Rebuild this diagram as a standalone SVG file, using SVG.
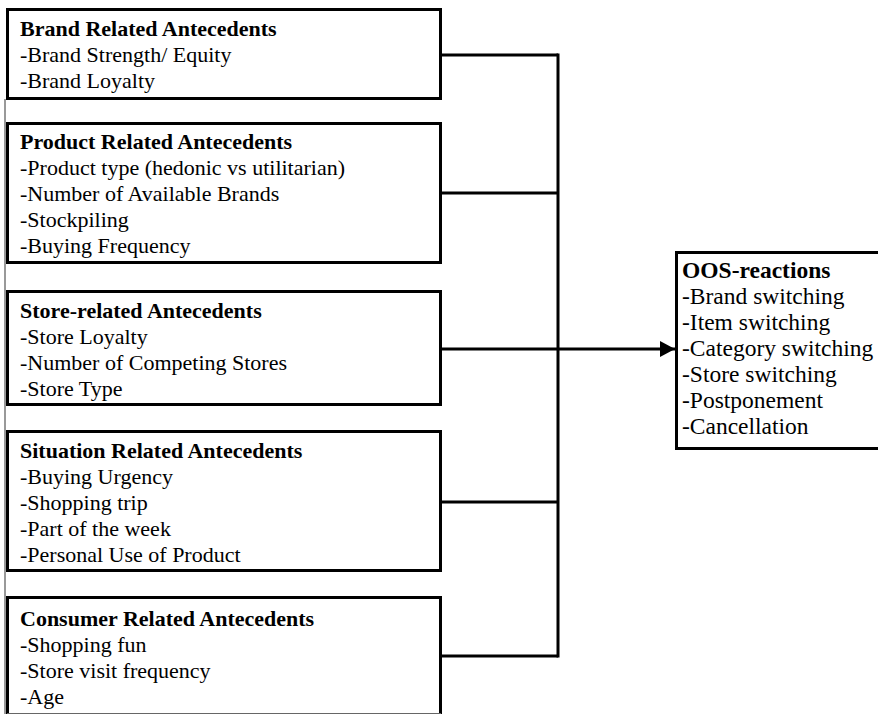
<svg xmlns="http://www.w3.org/2000/svg" width="878" height="714" viewBox="0 0 878 714">
<style>
.box{fill:#fff;stroke:#000;stroke-width:3}
.t{font-family:"Liberation Serif","Times New Roman",serif;font-size:22px;fill:#000}
.o{font-size:23.5px}
.b{font-weight:bold}
.c{stroke:#000;stroke-width:3;fill:none}
</style>
<defs>
<marker id="arr" markerWidth="16" markerHeight="16" refX="15" refY="8" orient="auto" markerUnits="userSpaceOnUse">
<path d="M0,0 L15,8 L0,16 Z" fill="#000"/>
</marker>
</defs>
<rect width="878" height="714" fill="#fff"/>
<line x1="5" y1="99" x2="5" y2="714" stroke="#555" stroke-width="1.2"/>
<g id="connectors">
<line class="c" x1="441" y1="55" x2="558" y2="55"/>
<line class="c" x1="441" y1="193" x2="558" y2="193"/>
<line class="c" x1="441" y1="502" x2="558" y2="502"/>
<line class="c" x1="441" y1="656" x2="558" y2="656"/>
<line class="c" x1="558" y1="53.5" x2="558" y2="657.5"/>
<line class="c" x1="441" y1="349" x2="675" y2="349" marker-end="url(#arr)"/>
</g>
<g id="brand">
<rect class="box" x="7.5" y="9.5" width="433" height="89"/>
<text class="t b" x="20" y="36">Brand Related Antecedents</text>
<text class="t" x="20" y="62">-Brand Strength/ Equity</text>
<text class="t" x="20" y="88">-Brand Loyalty</text>
</g>
<g id="product">
<rect class="box" x="7.5" y="123.5" width="433" height="139"/>
<text class="t b" x="20" y="149">Product Related Antecedents</text>
<text class="t" x="20" y="175">-Product type (hedonic vs utilitarian)</text>
<text class="t" x="20" y="201">-Number of Available Brands</text>
<text class="t" x="20" y="227">-Stockpiling</text>
<text class="t" x="20" y="253">-Buying Frequency</text>
</g>
<g id="store">
<rect class="box" x="7.5" y="291.5" width="433" height="113"/>
<text class="t b" x="20" y="318">Store-related Antecedents</text>
<text class="t" x="20" y="344">-Store Loyalty</text>
<text class="t" x="20" y="370">-Number of Competing Stores</text>
<text class="t" x="20" y="396">-Store Type</text>
</g>
<g id="situation">
<rect class="box" x="7.5" y="431.5" width="433" height="139"/>
<text class="t b" x="20" y="458">Situation Related Antecedents</text>
<text class="t" x="20" y="484">-Buying Urgency</text>
<text class="t" x="20" y="510">-Shopping trip</text>
<text class="t" x="20" y="536">-Part of the week</text>
<text class="t" x="20" y="562">-Personal Use of Product</text>
</g>
<g id="consumer">
<rect class="box" x="7.5" y="597.5" width="433" height="122"/>
<line x1="7" y1="713.5" x2="441" y2="713.5" stroke="#666" stroke-width="1"/>
<text class="t b" x="20" y="626">Consumer Related Antecedents</text>
<text class="t" x="20" y="652">-Shopping fun</text>
<text class="t" x="20" y="678">-Store visit frequency</text>
<text class="t" x="20" y="704">-Age</text>
</g>
<g id="oos">
<rect class="box" x="676.5" y="252.5" width="210" height="196"/>
<text class="t o b" x="682" y="278">OOS-reactions</text>
<text class="t o" x="682" y="304">-Brand switching</text>
<text class="t o" x="682" y="330">-Item switching</text>
<text class="t o" x="682" y="356">-Category switching</text>
<text class="t o" x="682" y="382">-Store switching</text>
<text class="t o" x="682" y="408">-Postponement</text>
<text class="t o" x="682" y="434">-Cancellation</text>
</g>
</svg>
